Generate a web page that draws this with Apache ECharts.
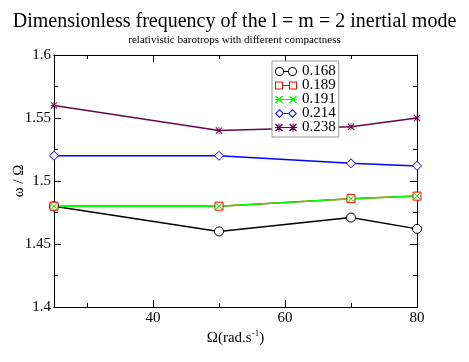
<!DOCTYPE html>
<html>
<head>
<meta charset="utf-8">
<script src="https://cdn.jsdelivr.net/npm/echarts@6/dist/echarts.min.js"></script>
<style>
  html, body { margin: 0; padding: 0; background: #fff; }
  #chart { width: 469px; height: 362px; }
</style>
</head>
<body>
<div id="chart"></div>
<script>
// rotation rate (rad/s)
var omega = [25, 50, 70, 80];
// omega / Omega for each compactness
var c168 = [1.48, 1.46, 1.471, 1.462];
var c189 = [1.48, 1.48, 1.486, 1.488];
var c191 = [1.48, 1.48, 1.486, 1.488];
var c214 = [1.52, 1.52, 1.514, 1.512];
var c238 = [1.56, 1.54, 1.543, 1.55];
var names = ['0.168', '0.189', '0.191', '0.214', '0.238'];
var xMajor = [40, 60, 80];
var xMinor = [30, 50, 70];

var serif = '"Liberation Serif", "Times New Roman", "DejaVu Serif", serif';
var cols = ['#000000', '#ff0000', '#00ff00', '#0000ff', '#67074a'];

// marker shapes (filled paths)
var xMark = 'path://M0,1L1,0L10,9L9,10Z M9,0L10,1L1,10L0,9Z';
var starMark = 'path://M4.5,0L5.5,0L5.5,10L4.5,10Z M0,4.5L10,4.5L10,5.5L0,5.5Z M0,1L1,0L10,9L9,10Z M9,0L10,1L1,10L0,9Z';

// legend icons: line with a marker at each end
var lgCircle = 'path://M0,5A4.5,4.5 0 1,1 9,5A4.5,4.5 0 1,1 0,5Z M1,5A3.5,3.5 0 1,0 8,5A3.5,3.5 0 1,0 1,5Z' +
  ' M13,5A4.5,4.5 0 1,1 22,5A4.5,4.5 0 1,1 13,5Z M14,5A3.5,3.5 0 1,0 21,5A3.5,3.5 0 1,0 14,5Z M9,4.5L13,4.5L13,5.5L9,5.5Z';
var lgSquare = 'path://M0,1L8,1L8,9L0,9Z M1,2L1,8L7,8L7,2Z M14,1L22,1L22,9L14,9Z M15,2L15,8L21,8L21,2Z M8,4.5L14,4.5L14,5.5L8,5.5Z';
var lgCross = 'path://M0,2L1,1L8,8L7,9Z M7,1L8,2L1,9L0,8Z M14,2L15,1L22,8L21,9Z M21,1L22,2L15,9L14,8Z M0,4.5L22,4.5L22,5.5L0,5.5Z';
var lgDiamond = 'path://M0,5L4.5,0.5L9,5L4.5,9.5Z M1.4,5L4.5,8.1L7.6,5L4.5,1.9Z M13,5L17.5,0.5L22,5L17.5,9.5Z M14.4,5L17.5,8.1L20.6,5L17.5,1.9Z M9,4.5L13,4.5L13,5.5L9,5.5Z';
var lgStar = 'path://M3.5,1L4.5,1L4.5,9L3.5,9Z M0,4.5L8,4.5L8,5.5L0,5.5Z M0,2L1,1L8,8L7,9Z M7,1L8,2L1,9L0,8Z' +
  ' M17.5,1L18.5,1L18.5,9L17.5,9Z M14,4.5L22,4.5L22,5.5L14,5.5Z M14,2L15,1L22,8L21,9Z M21,1L22,2L15,9L14,8Z M0,4.5L22,4.5L22,5.5L0,5.5Z';
var lgIcons = [lgCircle, lgSquare, lgCross, lgDiamond, lgStar];

function pairs(ys) {
    return omega.map(function (x, i) { return [x, ys[i]]; });
}

function xAx(pos, ticks, len, labels) {
    return {
        type: 'value', position: pos, min: 25, max: 80,
        axisLine: { show: true, lineStyle: { color: '#000', width: 1 } },
        axisTick: { show: true, inside: true, length: len, customValues: ticks, lineStyle: { color: '#000' } },
        axisLabel: labels ? { show: true, customValues: ticks, margin: 4, fontFamily: serif, fontSize: 15, color: '#000' } : { show: false },
        splitLine: { show: false }
    };
}

function yAx(pos, labels) {
    return {
        type: 'value', position: pos, min: 1.4, max: 1.6, interval: 0.05,
        axisLine: { show: true, lineStyle: { color: '#000', width: 1 } },
        axisTick: { show: true, inside: true, length: 7, lineStyle: { color: '#000' } },
        minorTick: { show: true, splitNumber: 2, length: 4, lineStyle: { color: '#000' } },
        axisLabel: { show: labels, margin: 3, fontFamily: serif, fontSize: 15, color: '#000' },
        splitLine: { show: false }
    };
}

var xMain = xAx('bottom', xMajor, 7, true);
xMain.name = '{a|\u03a9(rad.s}{b|-1}{a|)}';
xMain.nameLocation = 'middle';
xMain.nameGap = 22;
xMain.nameMoveOverlap = false;
xMain.nameTextStyle = {
    rich: {
        a: { fontFamily: serif, fontSize: 15, color: '#000', lineHeight: 18 },
        b: { fontFamily: serif, fontSize: 9, color: '#000', verticalAlign: 'top', lineHeight: 10 }
    }
};

var yMain = yAx('left', true);
yMain.name = '\u03c9 / \u03a9';
yMain.nameLocation = 'middle';
yMain.nameRotate = 90;
yMain.nameGap = 27;
yMain.nameMoveOverlap = false;
yMain.nameTextStyle = { fontFamily: serif, fontSize: 15, color: '#000' };

// hollow marks: white fill with thin coloured outline; cross/star: filled paths
var marks = [
    { symbol: 'circle', size: 9, hollow: true },
    { symbol: 'rect', size: 8, hollow: true },
    { symbol: xMark, size: 7, hollow: false },
    { symbol: 'diamond', size: 9, hollow: true },
    { symbol: starMark, size: 7, hollow: false }
];
var vals = [c168, c189, c191, c214, c238];

var series = names.map(function (n, i) {
    var m = marks[i];
    return {
        name: n, type: 'line', data: pairs(vals[i]),
        xAxisIndex: 0, yAxisIndex: 0,
        symbol: m.symbol, symbolSize: m.size, showSymbol: true,
        clip: false,
        color: cols[i],
        lineStyle: { color: cols[i], width: 1.5 },
        itemStyle: m.hollow
            ? { color: '#fff', borderColor: cols[i], borderWidth: 1 }
            : { color: cols[i], borderWidth: 0 }
    };
});

var chart = echarts.init(document.getElementById('chart'));
chart.setOption({
    animation: false,
    backgroundColor: '#fff',
    title: {
        text: 'Dimensionless frequency of the l = m = 2 inertial mode',
        subtext: 'relativistic barotrops with different compactness',
        left: 'center', top: 12, itemGap: 3, padding: 0,
        textStyle: { fontFamily: serif, fontSize: 20, fontWeight: 'normal', color: '#000' },
        subtextStyle: { fontFamily: serif, fontSize: 11, color: '#000' }
    },
    grid: { left: 54, right: 52, top: 55, bottom: 55, containLabel: false, outerBoundsMode: 'none' },
    legend: {
        orient: 'vertical', left: 272, top: 61,
        padding: [3, 3, 2, 3], itemGap: -1, itemWidth: 22, itemHeight: 10,
        backgroundColor: '#fff', borderColor: '#999', borderWidth: 1,
        textStyle: { fontFamily: serif, fontSize: 15, color: '#000', lineHeight: 15 },
        data: names.map(function (n, i) {
            return { name: n, icon: lgIcons[i], itemStyle: { color: cols[i], borderWidth: 0 } };
        })
    },
    xAxis: [
        xMain,
        xAx('bottom', xMinor, 4, false),
        xAx('top', xMajor, 7, false),
        xAx('top', xMinor, 4, false)
    ],
    yAxis: [yMain, yAx('right', false)],
    series: series
});
window.addEventListener('resize', function () { chart.resize(); });
</script>
</body>
</html>
